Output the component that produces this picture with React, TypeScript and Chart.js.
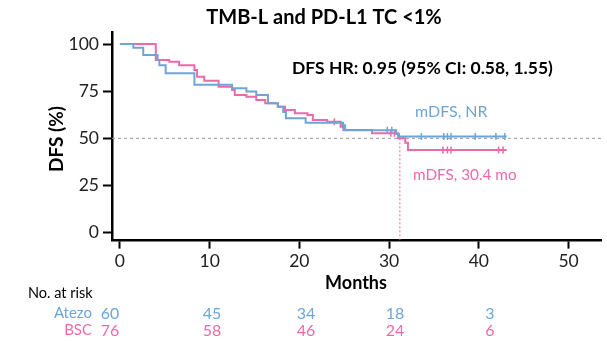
import React, { useEffect, useRef } from "react";
import { Chart, registerables } from "chart.js";

Chart.register(...registerables);

// ---- data ----
const xTickValues = [0, 10, 20, 30, 40, 50];
const yTickValues = [0, 25, 50, 75, 100];

const atezoTimes = [0, 1.5, 2.6, 4.2, 4.4, 5.1, 8.3, 12.5, 14.1, 15.2, 16.5, 17.6, 18.2, 18.5, 20.7, 24.8, 25.1, 30.8, 31.1, 43.1];
const atezoSurv = [100, 98, 94.2, 91.5, 88.8, 84.5, 78.4, 76.5, 74.8, 73, 68.6, 66.8, 64, 60.6, 58.3, 57, 54.3, 52.3, 51, 51];
const atezoCensorTimes = [24.9, 29.8, 30.3, 33.6, 36.1, 36.5, 36.9, 39.6, 41.9, 42.9];
const atezoCensorSurv = [57, 54.3, 54.3, 51, 51, 51, 51, 51, 51, 51];

const bscTimes = [0, 4.0, 5.5, 6.6, 8.3, 8.6, 9.4, 11, 12.5, 12.8, 14.1, 15.2, 16.2, 17.6, 18.4, 19.5, 20.9, 21.5, 23.1, 24.6, 24.9, 28.1, 31.0, 31.8, 32.1, 43.1];
const bscSurv = [100, 91.5, 90.6, 88.8, 86.2, 82.7, 80.5, 77.4, 75.6, 73, 72.1, 70.3, 68.6, 66.8, 65, 63.3, 62.4, 59.7, 58.8, 56.2, 54.4, 52.7, 50, 47.7, 43.8, 43.8];
const bscCensorTimes = [23.9, 30.2, 30.6, 36.0, 36.5, 36.9, 42.2, 42.7];
const bscCensorSurv = [58.8, 52.7, 52.7, 43.8, 43.8, 43.8, 43.8, 43.8];

const medianLevel = 50;
const bscMedianTime = 31.2;

const riskTimes = [0, 10, 20, 30, 40];
const atezoRisk = [60, 45, 34, 18, 3];
const bscRisk = [76, 58, 46, 24, 6];

const titleText = "TMB-L and PD-L1 TC <1%";
const hrText = "DFS HR: 0.95 (95% CI: 0.58, 1.55)";
const atezoMedianText = "mDFS, NR";
const bscMedianText = "mDFS, 30.4 mo";

const BLUE = "#6ea5d8";
const PINK = "#ec6aa9";
const FONT = "Lato, 'Open Sans', sans-serif";

const X_MIN = -0.88;
const X_MAX = 53.67;
const Y_MIN = -4.2;
const Y_MAX = 106;

// layout of the at-risk table columns (pixel centres)
const riskColumnX = [110, 212, 306, 395, 490];

export default function App() {
  const ref = useRef<HTMLCanvasElement | null>(null);

  useEffect(() => {
    document.body.style.margin = "0";
    const canvas = ref.current;
    if (!canvas) return;

    const textPlugin = {
      id: "texts",
      afterDraw(chart: any) {
        const ctx = chart.ctx as CanvasRenderingContext2D;
        ctx.save();
        ctx.textBaseline = "middle";

        ctx.fillStyle = "#000";
        ctx.font = `bold 20px ${FONT}`;
        ctx.textAlign = "center";
        ctx.fillText(titleText, 324, 18);

        ctx.font = `bold 17.5px ${FONT}`;
        ctx.textAlign = "left";
        ctx.fillText(hrText, 292, 68);

        ctx.font = `16px ${FONT}`;
        ctx.fillStyle = BLUE;
        ctx.fillText(atezoMedianText, 415, 112);
        ctx.font = `15.3px ${FONT}`;
        ctx.fillStyle = PINK;
        ctx.fillText(bscMedianText, 413, 175);

        ctx.fillStyle = "#000";
        ctx.font = `bold 18px ${FONT}`;
        ctx.textAlign = "center";
        ctx.fillText("Months", 356, 283);

        ctx.save();
        ctx.translate(57, 139);
        ctx.rotate(-Math.PI / 2);
        ctx.font = `bold 19px ${FONT}`;
        ctx.fillText("DFS (%)", 0, 0);
        ctx.restore();

        ctx.font = `14.5px ${FONT}`;
        ctx.textAlign = "left";
        ctx.fillStyle = "#000";
        ctx.fillText("No. at risk", 28, 293);

        ctx.textAlign = "right";
        ctx.font = `15px ${FONT}`;
        ctx.fillStyle = BLUE;
        ctx.fillText("Atezo", 92, 313);
        ctx.fillStyle = PINK;
        ctx.fillText("BSC", 92, 330);

        ctx.textAlign = "center";
        ctx.font = `16px ${FONT}`;
        riskTimes.forEach((_t, i) => {
          const px = riskColumnX[i];
          ctx.fillStyle = BLUE;
          ctx.fillText(String(atezoRisk[i]), px, 314);
          ctx.fillStyle = PINK;
          ctx.fillText(String(bscRisk[i]), px, 331);
        });
        ctx.restore();
      },
    };

    const toPts = (xsArr: number[], ysArr: number[]) => xsArr.map((x, i) => ({ x, y: ysArr[i] }));

    const chart = new Chart(canvas, {
      type: "line",
      data: {
        datasets: [
          {
            label: "Atezo censor",
            type: "scatter",
            data: toPts(atezoCensorTimes, atezoCensorSurv),
            pointStyle: "line",
            rotation: 90,
            radius: 3.5,
            borderColor: BLUE,
            backgroundColor: BLUE,
            borderWidth: 1.5,
            order: 1,
          } as any,
          {
            label: "Atezo",
            data: toPts(atezoTimes, atezoSurv),
            stepped: "before",
            borderColor: BLUE,
            borderWidth: 2,
            pointRadius: 0,
            fill: false,
            order: 2,
          },
          {
            label: "BSC censor",
            type: "scatter",
            data: toPts(bscCensorTimes, bscCensorSurv),
            pointStyle: "line",
            rotation: 90,
            radius: 3.5,
            borderColor: PINK,
            backgroundColor: PINK,
            borderWidth: 1.5,
            order: 3,
          } as any,
          {
            label: "BSC",
            data: toPts(bscTimes, bscSurv),
            stepped: "before",
            borderColor: PINK,
            borderWidth: 2,
            pointRadius: 0,
            fill: false,
            order: 4,
          },
          {
            label: "median ref",
            data: [
              { x: X_MIN, y: medianLevel },
              { x: X_MAX, y: medianLevel },
            ],
            borderColor: "#9a9a9a",
            borderWidth: 1,
            borderDash: [3, 3],
            pointRadius: 0,
            order: 6,
          },
          {
            label: "BSC median",
            data: [
              { x: bscMedianTime, y: medianLevel },
              { x: bscMedianTime, y: Y_MIN },
            ],
            borderColor: PINK,
            borderWidth: 1,
            borderDash: [2, 2],
            pointRadius: 0,
            order: 5,
          },
        ],
      },
      options: {
        animation: false,
        responsive: false,
        devicePixelRatio: 1,
        layout: { padding: { top: 32.7, left: 0, right: 0, bottom: 0 } },
        plugins: {
          legend: { display: false },
          tooltip: { enabled: false },
          title: { display: false },
        },
        scales: {
          x: {
            type: "linear",
            min: X_MIN,
            max: X_MAX,
            afterBuildTicks: (s: any) => {
              s.ticks = xTickValues.map((v) => ({ value: v }));
            },
            afterFit: (s: any) => {
              s.height = 100.4;
            },
            border: { display: true, color: "#000", width: 2.5 },
            grid: {
              display: true,
              drawOnChartArea: false,
              drawTicks: true,
              tickLength: 8,
              tickWidth: 2,
              tickColor: "#000",
              color: "#000",
            },
            ticks: {
              color: "#222",
              font: { family: FONT, size: 17.5 },
              padding: 2,
              maxRotation: 0,
              autoSkip: false,
            },
          },
          y: {
            type: "linear",
            min: Y_MIN,
            max: Y_MAX,
            afterBuildTicks: (s: any) => {
              s.ticks = yTickValues.map((v) => ({ value: v }));
            },
            afterFit: (s: any) => {
              s.width = 112;
            },
            border: { display: true, color: "#000", width: 2.5 },
            grid: {
              display: true,
              drawOnChartArea: false,
              drawTicks: true,
              tickLength: 9,
              tickWidth: 2,
              tickColor: "#000",
              color: "#000",
            },
            ticks: {
              color: "#222",
              font: { family: FONT, size: 17.5 },
              padding: 4,
              autoSkip: false,
            },
          },
        },
      },
      plugins: [textPlugin],
    } as any);

    return () => chart.destroy();
  }, []);

  return (
    <div style={{ width: 607, height: 341, background: "#fff" }}>
      <canvas ref={ref} width={607} height={341} style={{ display: "block" }} />
    </div>
  );
}
